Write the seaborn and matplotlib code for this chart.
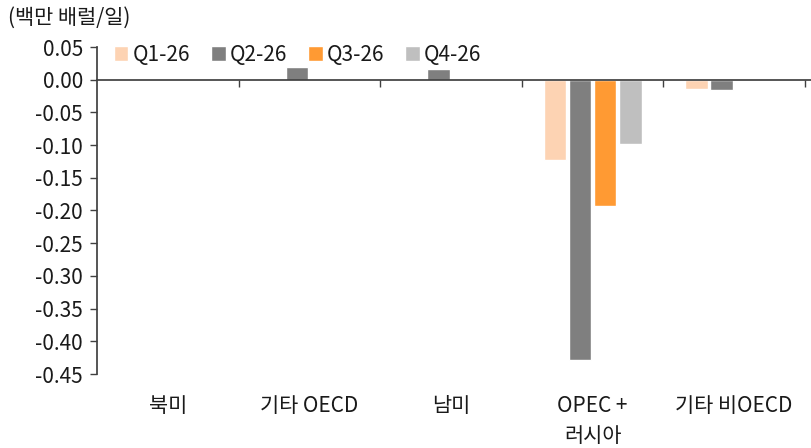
import matplotlib
matplotlib.use("Agg")
import matplotlib.pyplot as plt
import seaborn as sns
import pandas as pd
import numpy as np

categories = ["북미", "기타 OECD", "남미", "OPEC +\n러시아", "기타 비OECD"]
series = ["Q1-26", "Q2-26", "Q3-26", "Q4-26"]
q1 = [0.0, 0.0, 0.0, -0.123, -0.014]
q2 = [0.0, 0.020, 0.017, -0.428, -0.016]
q3 = [0.0, 0.0, 0.0, -0.193, 0.0]
q4 = [0.0, 0.0, 0.0, -0.098, 0.0]
colors = ["#FDD3B3", "#7F7F7F", "#FF9A33", "#BFBFBF"]
yticks = [0.05, 0.0, -0.05, -0.10, -0.15, -0.20, -0.25, -0.30, -0.35, -0.40, -0.45]

rows = []
for s, vals in zip(series, [q1, q2, q3, q4]):
    for c, v in zip(categories, vals):
        rows.append({"cat": c, "series": s, "value": v})
df = pd.DataFrame(rows)

sns.set_theme(style="white")
plt.rcParams["font.family"] = ["Noto Sans CJK KR", "DejaVu Sans"]
FS = 15
TXT = "#1a1a1a"

fig = plt.figure(figsize=(8.12, 4.48), dpi=100)
ax = fig.add_axes([97/812, 1-374/448, (812-97)/812, (374-47)/448])

sns.barplot(data=df, x="cat", y="value", hue="series", order=categories,
            hue_order=series, palette=colors, width=0.71, gap=0.1,
            saturation=1, ax=ax, legend=True)

ax.set_ylim(-0.45, 0.05)
ax.set_xlim(-0.5, 4.55)
ax.set_yticks(yticks)
ax.set_yticklabels([f"{v:.2f}" for v in yticks], fontsize=FS, color=TXT)
ax.tick_params(axis="y", direction="out", length=5, width=1, color="#404040", pad=5, left=True)

for side in ["top", "right"]:
    ax.spines[side].set_visible(False)
ax.spines["left"].set_color("#404040")
ax.spines["bottom"].set_position(("data", 0))
ax.spines["bottom"].set_color("#404040")

ax.set_xticks(np.arange(len(categories)))
ax.set_xticklabels([])
ax.tick_params(axis="x", which="major", length=0, bottom=False)
ax.set_xticks(np.arange(0.5, len(categories), 1.0), minor=True)
ax.tick_params(axis="x", which="minor", direction="out", length=5, width=1, color="#404040", bottom=True)

ax.set_xlabel("")
ax.set_ylabel("")

trans = matplotlib.transforms.blended_transform_factory(ax.transData, ax.transAxes)
for i, c in enumerate(categories):
    ax.text(i, -0.065, c, transform=trans, ha="center", va="top", fontsize=FS,
            linespacing=1.45, color=TXT)

fig.text(8/812, 1-18/448, "(백만 배럴/일)", ha="left", va="center", fontsize=FS, color=TXT)

leg = ax.legend(loc="upper left", bbox_to_anchor=(0.012, 1.035), ncol=4, frameon=False,
                fontsize=FS, handlelength=0.7, handleheight=0.7, handletextpad=0.2,
                columnspacing=1.0, borderaxespad=0)
for t in leg.get_texts():
    t.set_color(TXT)

fig.savefig("out.png", dpi=100)
